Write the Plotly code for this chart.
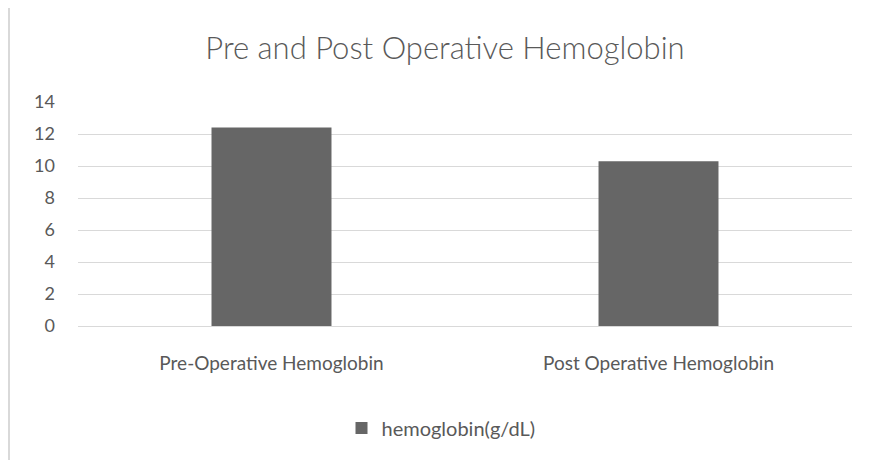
import plotly.graph_objects as go

categories = ["Pre-Operative Hemoglobin", "Post Operative Hemoglobin"]
values = [12.4, 10.3]
series_name = "hemoglobin(g/dL)"
y_ticks = [0, 2, 4, 6, 8, 10, 12, 14]

OFF = 8  # default page body margin
W, H = 869 - OFF, 460 - OFF
L, R, T, B = 78 - OFF, 17, 102 - OFF, 134
pw, ph = W - L - R, H - T - B

def px_x(x):  # page pixel -> paper
    return (x - OFF - L) / pw

def px_y(y):
    return (H + OFF - B - y) / ph

font = "Lato, 'Open Sans', sans-serif"
txt = "#595959"

fig = go.Figure(go.Bar(
    x=categories, y=values, name=series_name,
    marker=dict(color="#666666", line=dict(width=0)),
    width=0.31, showlegend=True,
))

fig.update_layout(
    width=W, height=H,
    margin=dict(l=L, r=R, t=T, b=B, autoexpand=False),
    paper_bgcolor="white", plot_bgcolor="white",
    font=dict(family=font, color=txt, size=18),
    title=dict(text="Pre and Post Operative Hemoglobin", x=px_x(445), xanchor="center",
               xref="paper", y=1 - (48 - OFF) / H, yanchor="middle",
               font=dict(family=font, size=31, color=txt, weight=300)),
    legend=dict(orientation="h", x=px_x(441), xanchor="center", y=px_y(428), yanchor="middle",
                font=dict(family=font, size=20, color=txt), itemwidth=30),
    shapes=[
        dict(type="line", xref="paper", yref="paper", x0=px_x(9), x1=px_x(9),
             y0=px_y(6), y1=px_y(470), line=dict(color="#d9d9d9", width=2)),
        dict(type="line", xref="paper", yref="paper", x0=px_x(9), x1=px_x(880),
             y0=px_y(6), y1=px_y(6), line=dict(color="#d9d9d9", width=2)),
    ],
)
fig.update_xaxes(showgrid=False, showline=True, linecolor="#d9d9d9", linewidth=1,
                 ticks="", tickfont=dict(size=19, color=txt), ticklabelstandoff=20)
fig.update_yaxes(range=[0, 14], tickvals=y_ticks, showgrid=True, gridcolor="#d9d9d9",
                 gridwidth=1, zeroline=False, showline=False, ticks="",
                 tickfont=dict(size=18, color=txt), ticklabelstandoff=22)

fig.write_html("out.html")
